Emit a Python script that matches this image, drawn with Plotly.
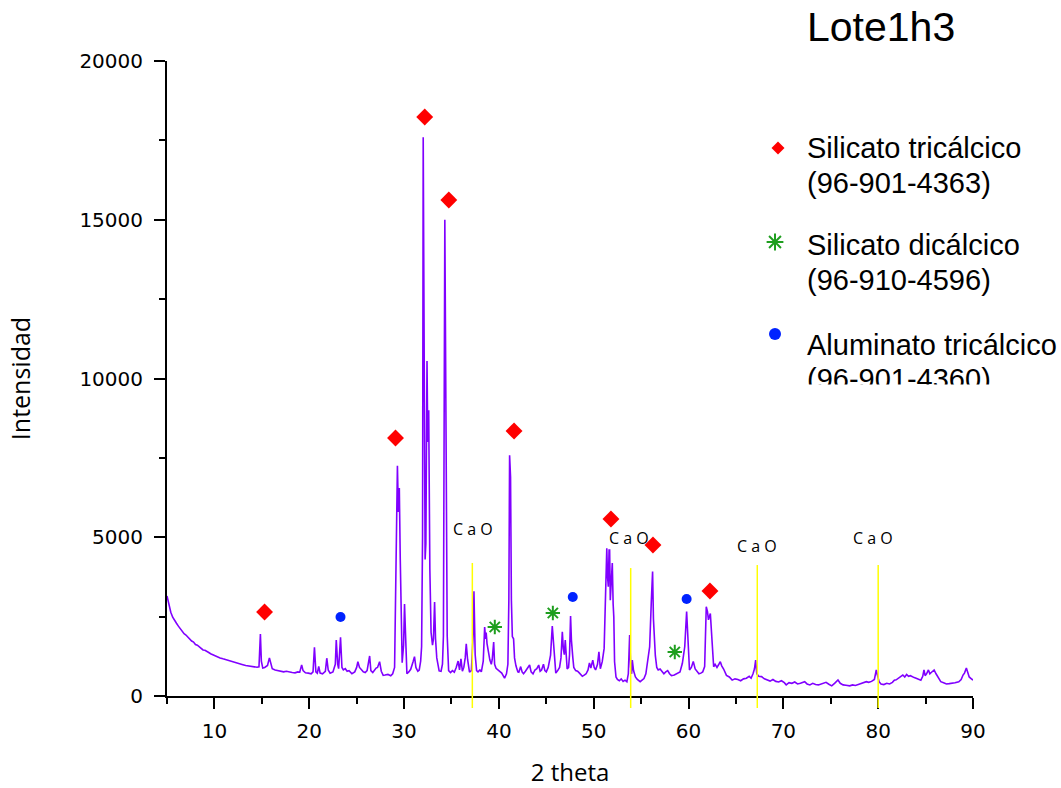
import plotly.graph_objects as go

# ---------------- data ----------------
two_theta = [
    5.0, 5.2, 5.4, 5.6, 5.8, 6.0, 6.2, 6.4, 6.6, 6.8, 7.0, 7.2, 7.4, 7.6, 7.8, 8.0, 8.2, 8.4, 8.6, 8.8,
    9.0, 9.2, 9.4, 9.6, 9.8, 10.0, 10.3, 10.6, 10.9, 11.2, 11.5, 11.8, 12.1, 12.4, 12.7, 13.0, 13.3, 13.6,
    13.9, 14.2, 14.5, 14.7, 14.85, 14.95, 15.1, 15.3, 15.6, 15.8, 15.9, 16.1, 16.4, 16.7, 17.0, 17.3, 17.6,
    17.9, 18.2, 18.5, 18.8, 19.0, 19.2, 19.35, 19.6, 19.9, 20.2, 20.4, 20.55, 20.7, 20.85, 21.0, 21.15,
    21.4, 21.7, 21.85, 22.0, 22.2, 22.5, 22.75, 22.85, 23.0, 23.1, 23.3, 23.45, 23.6, 23.8, 24.0, 24.2,
    24.5, 24.8, 25.0, 25.13, 25.3, 25.5, 25.7, 25.9, 26.1, 26.37, 26.5, 26.7, 26.9, 27.05, 27.2, 27.42,
    27.6, 27.8, 28.0, 28.3, 28.6, 28.8, 29.0, 29.1, 29.2, 29.3, 29.4, 29.5, 29.6, 29.7, 29.8, 29.95,
    30.05, 30.15, 30.3, 30.5, 30.7, 30.95, 31.1, 31.25, 31.45, 31.6, 31.75, 31.85, 31.95, 32.02, 32.12,
    32.22, 32.3, 32.42, 32.5, 32.6, 32.67, 32.72, 32.85, 33.0, 33.1, 33.22, 33.32, 33.45, 33.7, 33.9,
    34.05, 34.15, 34.3, 34.42, 34.55, 34.7, 34.9, 35.1, 35.3, 35.5, 35.7, 35.85, 36.0, 36.15, 36.3,
    36.45, 36.56, 36.7, 36.9, 37.1, 37.3, 37.37, 37.5, 37.65, 37.8, 38.0, 38.15, 38.35, 38.5, 38.6,
    38.66, 38.75, 38.9, 39.05, 39.2, 39.3, 39.45, 39.55, 39.7, 39.9, 40.1, 40.3, 40.6, 40.8, 40.95,
    41.05, 41.13, 41.23, 41.32, 41.42, 41.55, 41.65, 41.8, 42.0, 42.1, 42.3, 42.45, 42.6, 42.8, 43.0,
    43.24, 43.4, 43.6, 43.8, 44.0, 44.2, 44.35, 44.5, 44.7, 44.85, 45.0, 45.2, 45.45, 45.63, 45.75,
    45.85, 46.0, 46.2, 46.4, 46.55, 46.69, 46.8, 46.9, 47.0, 47.1, 47.2, 47.35, 47.45, 47.56, 47.65,
    47.8, 47.9, 48.1, 48.3, 48.5, 48.8, 49.0, 49.2, 49.4, 49.55, 49.7, 49.9, 50.05, 50.2, 50.4, 50.55,
    50.7, 50.9, 51.1, 51.25, 51.38, 51.45, 51.54, 51.62, 51.68, 51.75, 51.85, 51.96, 52.05, 52.12,
    52.2, 52.35, 52.5, 52.7, 52.9, 53.1, 53.3, 53.5, 53.65, 53.79, 53.9, 54.0, 54.07, 54.2, 54.4, 54.6,
    54.9, 55.1, 55.3, 55.5, 55.7, 55.9, 56.07, 56.21, 56.3, 56.4, 56.5, 56.65, 56.8, 57.0, 57.2, 57.4,
    57.6, 57.8, 58.0, 58.2, 58.5, 58.8, 59.1, 59.35, 59.6, 59.8, 59.95, 60.1, 60.3, 60.5, 60.7, 60.9,
    61.1, 61.3, 61.5, 61.7, 61.87, 62.0, 62.1, 62.3, 62.4, 62.5, 62.65, 62.8, 63.0, 63.2, 63.35, 63.5,
    63.7, 64.0, 64.3, 64.6, 64.9, 65.2, 65.5, 65.8, 66.1, 66.4, 66.6, 66.8, 66.95, 67.08, 67.2, 67.4,
    67.7, 68.0, 68.3, 68.6, 68.9, 69.2, 69.5, 69.8, 70.1, 70.3, 70.6, 70.9, 71.2, 71.5, 71.8, 72.0,
    72.25, 72.5, 72.8, 73.1, 73.4, 73.7, 74.0, 74.3, 74.5, 74.8, 75.1, 75.4, 75.6, 75.76, 76.0, 76.3,
    76.6, 77.0, 77.3, 77.6, 77.9, 78.2, 78.5, 78.75, 79.0, 79.3, 79.6, 79.8, 79.95, 80.1, 80.3, 80.6,
    80.9, 81.2, 81.5, 81.7, 81.9, 82.2, 82.4, 82.6, 82.8, 83.0, 83.2, 83.4, 83.6, 83.8, 84.0, 84.3,
    84.5, 84.7, 84.83, 84.95, 85.1, 85.3, 85.45, 85.6, 85.9, 86.1, 86.25, 86.45, 86.6, 86.9, 87.2,
    87.5, 87.8, 88.1, 88.5, 88.75, 88.95, 89.1, 89.3, 89.45, 89.6, 89.8, 90.0,
]
intensity = [
    3150, 2850, 2640, 2480, 2400, 2290, 2200, 2110, 2060, 1960, 1920, 1850, 1800, 1730, 1700, 1620, 1600, 1540, 1510, 1450,
    1440, 1390, 1370, 1330, 1300, 1280, 1240, 1200, 1170, 1140, 1110, 1080, 1050, 1030, 1000, 985, 960, 945,
    930, 915, 905, 920, 1950, 1100, 880, 900, 960, 1200, 1080, 860, 820, 800, 790, 760, 780,
    750, 740, 730, 760, 750, 980, 800, 730, 720, 700, 760, 1530, 760, 720, 930, 720,
    700, 780, 1190, 820, 720, 760, 1000, 1760, 1000, 860, 1850, 900, 820, 860, 780, 800,
    700, 760, 900, 1080, 900, 820, 760, 740, 800, 1260, 800, 740, 830, 880, 900, 1080,
    780, 650, 660, 680, 640, 700, 900, 3500, 6100, 7250, 5800, 6550, 4300, 1800, 1050, 1600,
    2900, 2000, 700, 760, 840, 1080, 1240, 900, 780, 820, 1100, 1550, 5000, 17600, 12000,
    4300, 4800, 10550, 8000, 9000, 6000, 4000, 2000, 1600, 1800, 2960, 1800, 1200, 790, 780,
    1000, 1880, 15000, 6000, 1900, 800, 740, 800, 750, 900, 1100, 820, 1170, 780, 900,
    1200, 1640, 1150, 750, 800, 2000, 3300, 1300, 800, 760, 820, 760, 1100, 2170, 1800,
    2000, 1650, 1300, 1130, 1000, 1150, 1700, 1000, 870, 820, 800, 720, 560, 700, 1000,
    3000, 7580, 6900, 3000, 1870, 1800, 1200, 950, 760, 750, 925, 760, 700, 780, 860,
    976, 760, 700, 820, 860, 976, 780, 820, 1000, 800, 760, 900, 1290, 2200, 1600,
    1320, 720, 800, 900, 1200, 2020, 1480, 1300, 1760, 1100, 850, 900, 1300, 2520, 1760,
    1200, 900, 800, 780, 720, 620, 660, 700, 820, 1040, 880, 1130, 900, 820, 1000, 1390,
    860, 1080, 1500, 3000, 4650, 3800, 3440, 4600, 4600, 3020, 3500, 4190, 2900, 2490,
    1080, 600, 520, 480, 540, 460, 500, 450, 700, 1920, 900, 700, 1130, 800, 600, 520,
    450, 500, 550, 700, 1130, 1550, 2930, 3920, 2430, 1700, 1270, 900, 820, 850, 780, 700,
    760, 800, 700, 640, 660, 700, 760, 1030, 1550, 2660, 1440, 820, 900, 1090, 850, 760,
    700, 720, 760, 925, 2810, 2660, 2400, 2600, 2100, 1550, 920, 1000, 900, 1000, 1080, 950,
    850, 650, 600, 500, 540, 520, 480, 540, 560, 620, 560, 700, 850, 1130, 700, 620,
    610, 540, 500, 470, 520, 460, 440, 480, 420, 350, 420, 400, 440, 380, 400, 420,
    450, 380, 350, 400, 360, 350, 380, 410, 430, 370, 320, 400, 480, 505, 400, 350,
    340, 320, 350, 330, 360, 390, 420, 450, 430, 460, 520, 820, 620, 450, 380, 360,
    400, 380, 430, 500, 510, 560, 620, 660, 600, 680, 620, 640, 600, 580, 560, 530,
    500, 620, 820, 640, 700, 820, 700, 740, 820, 700, 620, 520, 450, 420, 380,
    390, 400, 420, 450, 520, 660, 720, 880, 700, 600, 550, 500,
]

# phase identification markers
c3s_x = [15.29, 29.1, 32.18, 34.72, 41.6, 51.82, 56.25, 62.26]
c3s_y = [2646, 8126, 18236, 15622, 8346, 5575, 4756, 3307]
c2s_x = [39.57, 45.69, 58.55]
c2s_y = [2173, 2614, 1386]
c3a_x = [23.3, 47.79, 59.8]
c3a_y = [2488, 3118, 3055]

# CaO reference lines
cao_x = [37.2, 53.9, 67.25, 80.0]
cao_top = [4190, 4030, 4125, 4125]
cao_label_x = [37.28, 53.7, 67.2, 79.5]
cao_label_y = [5260, 4976, 4724, 4976]
cao_text = "C a O"

x_ticks = [10, 20, 30, 40, 50, 60, 70, 80, 90]
x_tick_text = ["10", "20", "30", "40", "50", "60", "70", "80", "90"]
y_ticks = [0, 5000, 10000, 15000, 20000]
y_tick_text = ["0", "5000", "10000", "15000", "20000"]

title_text = "Lote1h3"
legend_names = [
    ("Silicato tricálcico", "(96-901-4363)"),
    ("Silicato dicálcico", "(96-910-4596)"),
    ("Aluminato tricálcico", "(96-901-4360)"),
]

# ---------------- layout geometry ----------------
W, H = 1061, 788
L, R, T, B = 167, 88, 61, 92
PW, PH = W - L - R, H - T - B
Y_MAX = 20000


def pxx(px):
    return (px - L) / PW


def pxy(py):
    return (H - B - py) / PH


PURPLE = "#8000ff"
RED = "#ff0000"
GREEN = "#1f9e1f"
BLUE = "#0022ff"

fig = go.Figure()
fig.add_trace(go.Scatter(x=two_theta, y=intensity, mode="lines",
                         line=dict(color=PURPLE, width=1.6), name="Lote1h3"))
fig.add_trace(go.Scatter(x=c3s_x, y=c3s_y, mode="markers", name="Silicato tricálcico",
                         marker=dict(symbol="diamond", size=13, color=RED, line=dict(width=0))))
fig.add_trace(go.Scatter(x=c2s_x, y=c2s_y, mode="markers", name="Silicato dicálcico",
                         marker=dict(symbol="asterisk-open", size=12, color=GREEN,
                                     line=dict(color=GREEN, width=2))))
fig.add_trace(go.Scatter(x=c3a_x, y=c3a_y, mode="markers", name="Aluminato tricálcico",
                         marker=dict(symbol="circle", size=10, color=BLUE, line=dict(width=0))))

# legend symbols on an overlay axis (0..1 over the plot area)
leg_sym_x = [pxx(778), pxx(775), pxx(775)]
leg_sym_y = [pxy(148), pxy(242), pxy(334)]
fig.add_trace(go.Scatter(x=[leg_sym_x[0]], y=[leg_sym_y[0]], xaxis="x2", yaxis="y2", mode="markers",
                         marker=dict(symbol="diamond", size=10, color=RED, line=dict(width=0)),
                         cliponaxis=False, hoverinfo="skip"))
fig.add_trace(go.Scatter(x=[leg_sym_x[1]], y=[leg_sym_y[1]], xaxis="x2", yaxis="y2", mode="markers",
                         marker=dict(symbol="asterisk-open", size=14, color=GREEN,
                                     line=dict(color=GREEN, width=2)),
                         cliponaxis=False, hoverinfo="skip"))
fig.add_trace(go.Scatter(x=[leg_sym_x[2]], y=[leg_sym_y[2]], xaxis="x2", yaxis="y2", mode="markers",
                         marker=dict(symbol="circle", size=12, color=BLUE, line=dict(width=0)),
                         cliponaxis=False, hoverinfo="skip"))

shapes = []
for xv, top in zip(cao_x, cao_top):
    shapes.append(dict(type="line", xref="x", yref="paper", x0=xv, x1=xv,
                       y0=-12 / PH, y1=top / Y_MAX,
                       line=dict(color="#ffff00", width=1.5), layer="above"))

annotations = []
for lx, ly in zip(cao_label_x, cao_label_y):
    annotations.append(dict(x=lx, y=ly, xref="x", yref="y", text=cao_text, showarrow=False,
                            font=dict(family="Open Sans", size=16, color="black")))

annotations.append(dict(x=pxx(805), y=pxy(27), xref="paper", yref="paper", text=title_text,
                        showarrow=False, xanchor="left", yanchor="middle",
                        font=dict(family="Liberation Sans, Arial", size=41, color="black")))

line_y = [(148, 183), (245, 280), (345, 379)]
for (n1, n2), (y1, y2) in zip(legend_names, line_y):
    for txt, yy in ((n1, y1), (n2, y2)):
        annotations.append(dict(x=pxx(805), y=pxy(yy), xref="paper", yref="paper", text=txt,
                                showarrow=False, xanchor="left", yanchor="middle",
                                font=dict(family="Liberation Sans, Arial", size=29, color="black")))

# the reference legend box clips the last line
annotations.append(dict(x=pxx(785), y=pxy(384), xref="paper", yref="paper", text=".",
                        showarrow=False, xanchor="left", yanchor="top", width=290, height=40,
                        bgcolor="white", borderpad=0, font=dict(color="white", size=10)))

tick_font = dict(family="DejaVu Sans", size=20, color="black")
fig.update_layout(
    width=W, height=H, autosize=False,
    margin=dict(l=L, r=R, t=T, b=B, pad=0, autoexpand=False),
    plot_bgcolor="white", paper_bgcolor="white",
    showlegend=False,
    xaxis=dict(range=[5, 90], tickvals=x_ticks, ticktext=x_tick_text, ticks="outside", ticklen=11,
               tickwidth=2, tickcolor="black", showline=True, linecolor="black", linewidth=2,
               showgrid=False, zeroline=False, tickfont=tick_font, ticklabelstandoff=5,
               automargin=False,
               minor=dict(dtick=5, tick0=0, ticks="outside", ticklen=6, tickwidth=2,
                          tickcolor="black", showgrid=False),
               title=dict(text="2 theta", font=dict(family="Open Sans", size=24, color="black"),
                          standoff=29)),
    yaxis=dict(range=[0, Y_MAX], tickvals=y_ticks, ticktext=y_tick_text, ticks="outside", ticklen=11,
               tickwidth=2, tickcolor="black", showline=True, linecolor="black", linewidth=2,
               showgrid=False, zeroline=False, tickfont=tick_font, ticklabelstandoff=7,
               automargin=False,
               minor=dict(dtick=2500, tick0=0, ticks="outside", ticklen=6, tickwidth=2,
                          tickcolor="black", showgrid=False),
               title=dict(text="Intensidad", font=dict(family="Open Sans", size=25, color="black"),
                          standoff=42)),
    xaxis2=dict(overlaying="x", range=[0, 1], visible=False),
    yaxis2=dict(overlaying="y", range=[0, 1], visible=False),
    shapes=shapes,
    annotations=annotations,
)

fig.write_html("out.html", config={"displayModeBar": False},
               post_script="document.body.style.margin='0';")
